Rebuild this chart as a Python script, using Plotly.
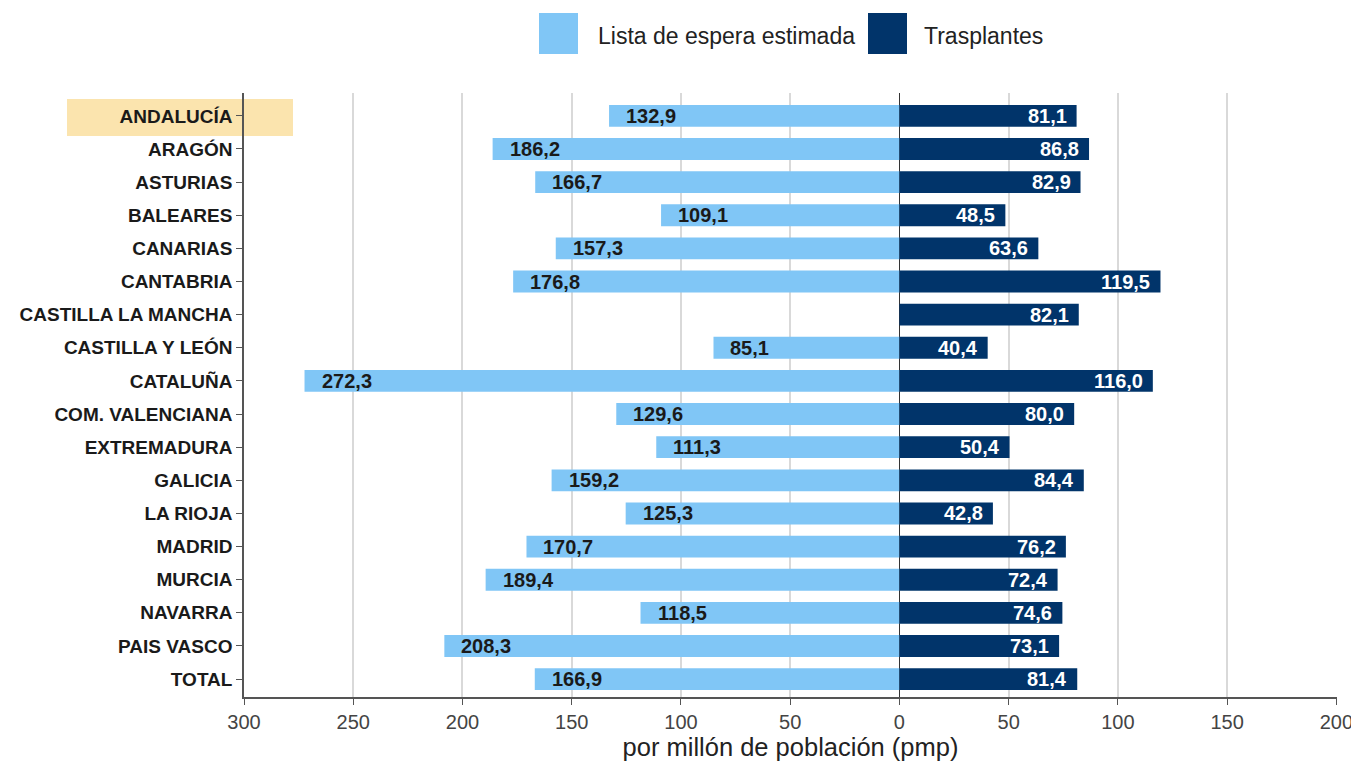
import plotly.graph_objects as go

regions = ["ANDALUCÍA", "ARAGÓN", "ASTURIAS", "BALEARES", "CANARIAS", "CANTABRIA",
           "CASTILLA LA MANCHA", "CASTILLA Y LEÓN", "CATALUÑA", "COM. VALENCIANA",
           "EXTREMADURA", "GALICIA", "LA RIOJA", "MADRID", "MURCIA", "NAVARRA",
           "PAIS VASCO", "TOTAL"]
lista_espera = [132.9, 186.2, 166.7, 109.1, 157.3, 176.8, None, 85.1, 272.3, 129.6,
                111.3, 159.2, 125.3, 170.7, 189.4, 118.5, 208.3, 166.9]
trasplantes = [81.1, 86.8, 82.9, 48.5, 63.6, 119.5, 82.1, 40.4, 116.0, 80.0,
               50.4, 84.4, 42.8, 76.2, 72.4, 74.6, 73.1, 81.4]
tick_vals = [-300, -250, -200, -150, -100, -50, 0, 50, 100, 150, 200]
tick_text = ["300", "250", "200", "150", "100", "50", "0", "50", "100", "150", "200"]

LIGHT = "#80C6F6"
DARK = "#01346A"
FONT = "Liberation Sans, Arial, sans-serif"

def fmt(v):
    return f"{v:.1f}".replace(".", ",")

fig = go.Figure()
fig.add_trace(go.Bar(
    y=regions, x=[-v if v is not None else None for v in lista_espera],
    orientation="h", marker=dict(color=LIGHT, line=dict(width=0)),
    name="Lista de espera estimada", width=0.66, hoverinfo="skip"))
fig.add_trace(go.Bar(
    y=regions, x=trasplantes,
    orientation="h", marker=dict(color=DARK, line=dict(width=0)),
    name="Trasplantes", width=0.66, hoverinfo="skip"))

annotations = []
for r, v in zip(regions, lista_espera):
    if v is None:
        continue
    annotations.append(dict(x=-v, y=r, xref="x", yref="y", text=fmt(v),
                            showarrow=False, xanchor="left", xshift=15,
                            font=dict(family=FONT, size=20, color="#1a1a1a", weight="bold")))
for r, v in zip(regions, trasplantes):
    annotations.append(dict(x=v, y=r, xref="x", yref="y", text=fmt(v),
                            showarrow=False, xanchor="right", xshift=-8,
                            font=dict(family=FONT, size=20, color="white", weight="bold")))

# layout geometry (pixels)
L, R, T, B = 244, 1337, 93, 697
W, H = 1351, 761
def px(x):
    return (x - L) / (R - L)
def py(y):
    return (B - y) / (B - T)

shapes = [
    # highlight behind first category label
    dict(type="rect", xref="paper", yref="paper", x0=px(67), x1=px(293), y0=py(136), y1=py(99),
         fillcolor="#FBE4AE", line=dict(width=0), layer="below"),
    # legend swatches
    dict(type="rect", xref="paper", yref="paper", x0=px(539), x1=px(578), y0=py(54), y1=py(13),
         fillcolor=LIGHT, line=dict(width=0)),
    dict(type="rect", xref="paper", yref="paper", x0=px(868), x1=px(907), y0=py(54), y1=py(13),
         fillcolor=DARK, line=dict(width=0)),
]
annotations += [
    dict(x=px(596), y=py(36), xref="paper", yref="paper", text="Lista de espera estimada",
         showarrow=False, xanchor="left", yanchor="middle",
         font=dict(family=FONT, size=23, color="#222")),
    dict(x=px(922), y=py(36), xref="paper", yref="paper", text="Trasplantes",
         showarrow=False, xanchor="left", yanchor="middle",
         font=dict(family=FONT, size=23, color="#222")),
]

fig.update_layout(
    width=W, height=H,
    margin=dict(l=L, r=W - R, t=T, b=H - B, autoexpand=False),
    plot_bgcolor="white", paper_bgcolor="white",
    barmode="overlay", showlegend=False,
    shapes=shapes, annotations=annotations,
    font=dict(family=FONT),
)
fig.update_xaxes(
    range=[-300, 200.3], tickvals=tick_vals, ticktext=tick_text,
    automargin=False, ticklabeloverflow="allow",
    showgrid=True, gridcolor="#D9D9D9", gridwidth=1.5,
    zeroline=True, zerolinecolor="#333", zerolinewidth=1,
    showline=True, linecolor="#555", linewidth=1.5,
    ticks="outside", ticklen=6, tickcolor="#555",
    tickfont=dict(family=FONT, size=20, color="#444"),
    title=dict(text="por millón de población (pmp)", standoff=4,
               font=dict(family=FONT, size=25.5, color="#222")),
)
fig.update_yaxes(
    categoryorder="array", categoryarray=regions,
    automargin=False,
    autorange=False, range=[len(regions) - 0.46, -0.69],
    showline=True, linecolor="#555", linewidth=1.5,
    ticks="outside", ticklen=6, tickcolor="#555",
    tickfont=dict(family=FONT, size=19, color="#1a1a1a", weight="bold"),
    showgrid=False,
)
fig.write_html("out.html", config={"displayModeBar": False},
               post_script="document.body.style.margin='0';document.body.style.overflow='hidden';")
